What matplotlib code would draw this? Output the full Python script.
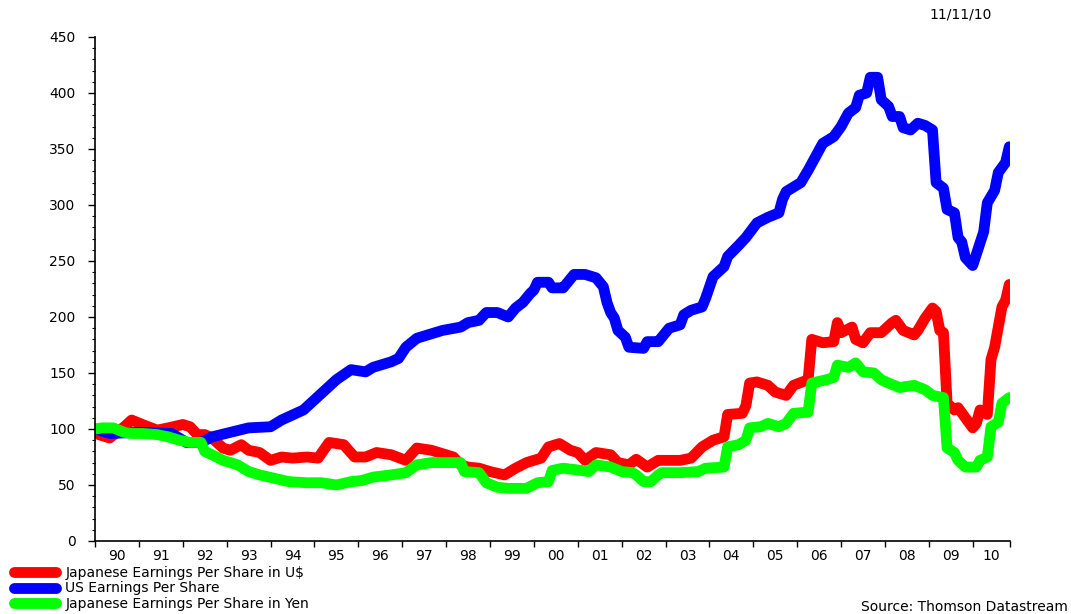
import matplotlib
matplotlib.use("Agg")
import matplotlib.pyplot as plt
from matplotlib.ticker import FixedLocator, MultipleLocator

# Months since Jan 1990 and index values (Jan 1990 = 100)
jp_usd_months = [0, 1, 4, 8, 10, 13, 17, 20, 24, 26, 28, 30, 32, 35, 37, 40, 42, 45, 48, 51,
                 54, 58, 61, 64, 68, 71, 74, 77, 81, 85, 88, 92, 96, 98, 100, 102, 105, 108, 112, 115,
                 118, 122, 124, 127, 130, 132, 134, 137, 141, 143, 146, 148, 151, 154, 160, 163, 166, 169, 172, 173,
                 177, 178, 179, 181, 184, 186, 189, 191, 195, 196, 199, 202, 203, 204, 207, 208, 210, 212, 215, 218,
                 219, 221, 224, 225, 227, 229, 230, 231, 232, 233, 235, 236, 238, 240, 241, 242, 244, 245, 246, 247,
                 248, 249, 250]
jp_usd = [100, 95, 92, 102, 108, 104, 99, 101, 104, 102, 95, 95, 92, 83, 81, 86, 81, 79, 72, 75,
          74, 75, 74, 88, 86, 75, 75, 79, 77, 72, 83, 81, 77, 75, 68, 66, 65, 62, 59, 65,
          70, 74, 84, 87, 81, 79, 72, 79, 77, 70, 68, 73, 66, 72, 72, 74, 84, 90, 93, 113,
          114, 121, 141, 142, 139, 133, 130, 139, 144, 180, 177, 178, 195, 186, 191, 180, 177, 186, 186, 195,
          197, 188, 184, 188, 199, 208, 205, 188, 186, 123, 117, 119, 110, 101, 105, 117, 113, 162, 173, 191,
          209, 215, 229]

us_months = [0, 4, 12, 21, 25, 29, 32, 37, 42, 48, 51, 53, 57, 59, 62, 66, 70, 74, 76, 81,
             83, 85, 88, 93, 95, 100, 102, 105, 107, 110, 113, 115, 117, 119, 120, 121, 124, 125, 128, 129,
             131, 134, 137, 139, 140, 141, 142, 143, 145, 146, 150, 151, 154, 155, 157, 160, 161, 163, 166, 167,
             169, 172, 173, 176, 178, 181, 184, 187, 188, 189, 193, 195, 197, 199, 202, 204, 206, 208, 209, 211,
             212, 214, 215, 217, 218, 220, 221, 223, 225, 227, 229, 230, 232, 233, 235, 236, 237, 238, 240, 242,
             243, 244, 246, 247, 249, 250]
us = [100, 96, 97, 96, 88, 88, 93, 97, 101, 102, 108, 111, 117, 123, 132, 144, 153, 151, 155, 160,
      163, 173, 181, 186, 188, 191, 195, 197, 204, 204, 200, 208, 213, 221, 224, 231, 231, 226, 226, 230,
      238, 238, 235, 227, 213, 204, 199, 188, 182, 173, 172, 178, 178, 182, 190, 193, 202, 206, 209, 217,
      236, 245, 254, 264, 271, 284, 289, 293, 305, 312, 320, 331, 343, 355, 361, 370, 382, 387, 398, 400,
      414, 414, 394, 388, 379, 379, 369, 367, 373, 371, 367, 320, 315, 296, 293, 271, 267, 253, 246, 266,
      276, 302, 313, 329, 338, 352]

jp_yen_months = [0, 2, 5, 8, 10, 13, 17, 20, 23, 26, 29, 30, 32, 35, 39, 42, 45, 49, 53, 58,
                 62, 66, 70, 73, 76, 81, 85, 88, 92, 100, 101, 105, 107, 110, 113, 118, 121, 124, 125, 128,
                 133, 135, 137, 141, 144, 147, 148, 150, 152, 154, 155, 160, 165, 167, 172, 173, 176, 178, 179, 182,
                 184, 187, 189, 191, 195, 196, 200, 202, 203, 206, 208, 210, 213, 215, 217, 220, 224, 227, 229, 232,
                 233, 235, 236, 238, 241, 242, 244, 245, 247, 248, 250]
jp_yen = [100, 101, 101, 97, 96, 96, 95, 93, 90, 88, 88, 80, 77, 72, 68, 62, 59, 56, 53, 52,
          52, 50, 53, 54, 57, 59, 61, 68, 70, 70, 62, 61, 52, 48, 47, 47, 52, 53, 63, 65,
          63, 62, 68, 66, 62, 61, 59, 53, 53, 59, 61, 61, 62, 65, 66, 84, 86, 90, 101, 102,
          105, 102, 105, 114, 115, 141, 144, 146, 157, 155, 159, 151, 150, 144, 141, 137, 139, 135, 130, 128,
          83, 79, 72, 66, 66, 72, 75, 102, 106, 123, 128]

year_labels = ["90", "91", "92", "93", "94", "95", "96", "97", "98", "99", "00",
               "01", "02", "03", "04", "05", "06", "07", "08", "09", "10"]
last_month = 250.2

plt.rcParams["font.family"] = ["DejaVu Sans"]
fs = 10

fig = plt.figure(figsize=(10.71, 6.14), dpi=100)
ax = fig.add_axes([95 / 1071, 1 - 541 / 614, (1010 - 95) / 1071, (541 - 37) / 614])

lw = 7.8
l1, = ax.plot(jp_usd_months, jp_usd, color="#ff0000", lw=lw, solid_joinstyle="round",
              solid_capstyle="round", label="Japanese Earnings Per Share in U$")
l2, = ax.plot(us_months, us, color="#0000ff", lw=lw, solid_joinstyle="round",
              solid_capstyle="round", label="US Earnings Per Share")
l3, = ax.plot(jp_yen_months, jp_yen, color="#00ff00", lw=lw, solid_joinstyle="round",
              solid_capstyle="round", label="Japanese Earnings Per Share in Yen")

ax.set_xlim(0, last_month)
ax.set_ylim(0, 450)

# year boundaries as ticks, year labels centred in between
starts = [12 * i for i in range(len(year_labels))] + [last_month]
mids = [(starts[i] + starts[i + 1]) / 2 for i in range(len(year_labels))]
ax.xaxis.set_major_locator(FixedLocator(starts))
ax.xaxis.set_major_formatter(plt.NullFormatter())
ax.set_xticks(mids, year_labels, minor=True)
ax.tick_params(axis="x", which="major", direction="out", length=4, width=1)
ax.tick_params(axis="x", which="minor", length=0, pad=6, labelsize=fs)

ax.yaxis.set_major_locator(MultipleLocator(50))
ax.yaxis.set_minor_locator(MultipleLocator(10))
ax.tick_params(axis="y", which="major", direction="out", length=5, width=1, pad=9, labelsize=fs)
ax.tick_params(axis="y", which="minor", direction="out", length=2.5, width=0.8)

for s in ["top", "right"]:
    ax.spines[s].set_visible(False)
for s in ["left", "bottom"]:
    ax.spines[s].set_linewidth(1.2)

leg = fig.legend(handles=[l1, l2, l3], loc="upper left", bbox_to_anchor=(14 / 1071, 1 - 566 / 614),
                 frameon=False, fontsize=fs, handlelength=3.0, handletextpad=0.7,
                 labelspacing=0.1, borderpad=0, borderaxespad=0)

fig.text(1068 / 1071, 1 - 607 / 614, "Source: Thomson Datastream", ha="right", va="center", fontsize=fs)
fig.text(992 / 1071, 1 - 15 / 614, "11/11/10", ha="right", va="center", fontsize=fs)

fig.savefig("out.png", dpi=100)
